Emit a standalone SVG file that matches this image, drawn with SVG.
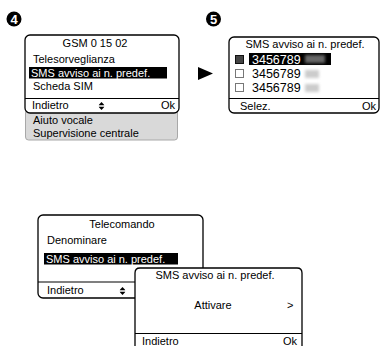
<svg xmlns="http://www.w3.org/2000/svg" width="380" height="346" viewBox="0 0 380 346">
<defs>
<style>
text{font-family:"Liberation Sans",Arial,Helvetica,sans-serif;font-size:11px;fill:#000}
.scr{fill:#fff;stroke:#000;stroke-width:1.3}
.div{stroke:#000;stroke-width:1.1;fill:none}
.hl{fill:#000}
.inv{fill:#fff}
.num{font-weight:bold;font-size:13px;fill:#fff;text-anchor:middle}
.mid{text-anchor:middle}
.end{text-anchor:end}
.big{font-size:12.5px}
.blur{filter:url(#bl)}
</style>
<filter id="bl" x="-50%" y="-50%" width="200%" height="200%"><feGaussianBlur stdDeviation="1.6"/></filter>
<symbol id="updown" viewBox="0 0 6 8"><polygon points="3,0 6,3.3 0,3.3" fill="#000"/><polygon points="3,8 6,4.7 0,4.7" fill="#000"/></symbol>
</defs>

<g id="step4">
<circle cx="14" cy="19" r="7.5" fill="#000"/>
<text class="num" x="14" y="23.7">4</text>
</g>

<g id="menu4">
<rect x="25.5" y="110" width="152" height="30" rx="3" fill="#d9d9d9" stroke="#a8a8a8" stroke-width="1"/>
<text x="33" y="124">Aiuto vocale</text>
<text x="33" y="137">Supervisione centrale</text>
<rect class="scr" x="25" y="35" width="154" height="78" rx="5"/>
<text class="mid" x="95" y="47">GSM 0 15 02</text>
<text x="33" y="63">Telesorveglianza</text>
<rect class="hl" x="29" y="67" width="138" height="11.5"/>
<text class="inv" x="31" y="76.5">SMS avviso ai n. predef.</text>
<text x="33" y="90">Scheda SIM</text>
<line class="div" x1="25" y1="98.5" x2="179" y2="98.5"/>
<text x="32" y="109">Indietro</text>
<use href="#updown" x="98.5" y="102" width="6" height="8"/>
<text class="end" x="175" y="109">Ok</text>
</g>

<g id="connectors">
<polygon points="198,67 198,80 213,73.5" fill="#000"/>
</g>

<g id="step5">
<circle cx="213.5" cy="19" r="7.5" fill="#000"/>
<text class="num" x="213.5" y="23.7">5</text>
</g>

<g id="menu5">
<rect class="scr" x="229" y="37" width="150" height="76" rx="5"/>
<text class="mid" x="305" y="48">SMS avviso ai n. predef.</text>
<rect x="235.5" y="55.5" width="8" height="8" fill="#444" stroke="#111" stroke-width="1"/>
<rect class="hl" x="249" y="53" width="82" height="12"/>
<rect class="blur" x="305" y="55" width="20" height="8" fill="#666"/>
<text class="inv big" x="252" y="63.5">3456789</text>
<rect x="235.5" y="69.5" width="8" height="8" fill="#fff" stroke="#777" stroke-width="1"/>
<rect class="blur" x="305" y="70" width="14" height="8" fill="#ccc"/>
<text class="big" x="252" y="77.5">3456789</text>
<rect x="235.5" y="83.5" width="8" height="8" fill="#fff" stroke="#777" stroke-width="1"/>
<rect class="blur" x="305" y="84" width="14" height="8" fill="#ccc"/>
<text class="big" x="252" y="91.5">3456789</text>
<line class="div" x1="229" y1="98.5" x2="379" y2="98.5"/>
<text x="240" y="110">Selez.</text>
<text class="end" x="376" y="110">Ok</text>
</g>

<g id="menuTelecomando">
<rect class="scr" x="38" y="215" width="165" height="83" rx="5"/>
<text class="mid" x="122" y="228">Telecomando</text>
<text x="47" y="244">Denominare</text>
<rect class="hl" x="44" y="253" width="134" height="11.5"/>
<text class="inv" x="46" y="262.5">SMS avviso ai n. predef.</text>
<line class="div" x1="38" y1="282" x2="203" y2="282"/>
<text x="47" y="294">Indietro</text>
<use href="#updown" x="119.5" y="287" width="6" height="8"/>
</g>

<g id="menuAttivare">
<path class="scr" d="M135,350 V273 Q135,268 140,268 H297 Q302,268 302,273 V350"/>
<text class="mid" x="215" y="279">SMS avviso ai n. predef.</text>
<text class="mid" x="213" y="309">Attivare</text>
<text x="287" y="309">&gt;</text>
<line class="div" x1="135" y1="333.5" x2="302" y2="333.5"/>
<text x="142" y="345">Indietro</text>
<text class="end" x="297" y="345">Ok</text>
</g>
</svg>
